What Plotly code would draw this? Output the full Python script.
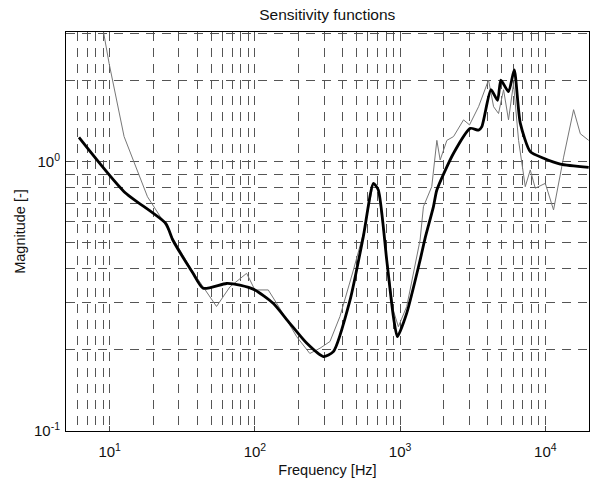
import plotly.graph_objects as go

# Model sensitivity (thick black)
f_model = [6.14, 12.56, 24.3, 27.2, 37.4, 44, 63.8, 78.8, 100, 133.6, 174, 227, 296, 347,
           452, 558, 655, 708, 809, 899, 958, 1111, 1373, 1487, 1697, 1791, 2334, 3043,
           3470, 3657, 4224, 4690, 4944, 5580, 6110, 6724, 7880, 9740, 12690, 19900]
s_model = [1.23, 0.774, 0.59, 0.512, 0.386, 0.339, 0.353, 0.348, 0.334, 0.298, 0.251, 0.212,
           0.189, 0.197, 0.306, 0.527, 0.831, 0.785, 0.431, 0.266, 0.224, 0.274, 0.431,
           0.52, 0.681, 0.785, 1.075, 1.33, 1.31, 1.35, 1.85, 1.69, 2.01, 1.82, 2.19, 1.39,
           1.09, 1.03, 0.98, 0.953]

# Measured sensitivity (thin gray)
f_meas = [9.0, 9.9, 12.56, 18.2, 23.1, 27.2, 37.4, 41.8, 54.4, 67.3, 87.7, 100, 123.6,
          148.6, 194, 239, 281, 329, 385, 477, 558, 655, 708, 809, 899, 973, 1111, 1373,
          1448, 1652, 1791, 1888, 2100, 2334, 2735, 3008, 3470, 4064, 4405, 4763, 5160,
          5580, 6040, 6545, 7280, 7880, 8530, 10000, 11400, 13370, 15660, 17420, 19900]
s_meas = [3.1, 2.32, 1.24, 0.741, 0.607, 0.52, 0.39, 0.358, 0.29, 0.343, 0.385, 0.334,
          0.334, 0.285, 0.224, 0.194, 0.203, 0.215, 0.266, 0.396, 0.54, 0.83, 0.79, 0.44,
          0.28, 0.244, 0.29, 0.512, 0.681, 0.808, 1.20, 1.015, 1.20, 1.24, 1.43, 1.37,
          1.60, 2.01, 1.60, 1.51, 1.85, 1.43, 1.95, 1.20, 0.808, 0.932, 0.797, 0.831,
          0.662, 1.04, 1.56, 1.27, 1.20]

x_tickvals = [10, 100, 1000, 10000]
x_ticktext = ["10<sup>1</sup>", "10<sup>2</sup>", "10<sup>3</sup>", "10<sup>4</sup>"]
y_tickvals = [0.1, 1]
y_ticktext = ["10<sup>-1</sup>", "10<sup>0</sup>"]

fig = go.Figure()
fig.add_trace(go.Scatter(x=f_meas, y=s_meas, mode="lines",
                         line=dict(color="#777777", width=1), showlegend=False))
fig.add_trace(go.Scatter(x=f_model, y=s_model, mode="lines",
                         line=dict(color="black", width=2.8, shape="spline", smoothing=0.6),
                         showlegend=False))

grid = dict(gridcolor="#555555", gridwidth=0.8, griddash="9px,7px")
fig.update_layout(
    width=591, height=479,
    margin=dict(l=66, r=2, t=32, b=48),
    paper_bgcolor="white", plot_bgcolor="white",
    font=dict(family="Liberation Sans, Arial, sans-serif", size=14, color="#111111"),
    title=dict(text="Sensitivity functions", x=0.5538, xanchor="center",
               y=1 - 15 / 479, yanchor="middle", font=dict(size=15.5)),
    xaxis=dict(type="log", range=[0.699, 4.301], tickmode="array",
               tickvals=x_tickvals, ticktext=x_ticktext, ticks="inside", ticklen=5,
               showline=True, linecolor="black", linewidth=1, mirror=True,
               showgrid=True, **grid,
               minor=dict(dtick="D1", showgrid=True, ticks="", **grid),
               title=dict(text="Frequency [Hz]", standoff=5, font=dict(size=14.5)),
               tickfont=dict(size=15), ticklabelstandoff=7, zeroline=False),
    yaxis=dict(type="log", range=[-1, 0.4816], tickmode="array",
               tickvals=y_tickvals, ticktext=y_ticktext, ticks="inside", ticklen=5,
               showline=True, linecolor="black", linewidth=1, mirror=True,
               showgrid=True, **grid,
               minor=dict(dtick="D1", showgrid=True, ticks="", **grid),
               title=dict(text="Magnitude [-]", standoff=4, font=dict(size=14.5)),
               tickfont=dict(size=15), ticklabelstandoff=2, zeroline=False),
)
fig.write_html("out.html")
